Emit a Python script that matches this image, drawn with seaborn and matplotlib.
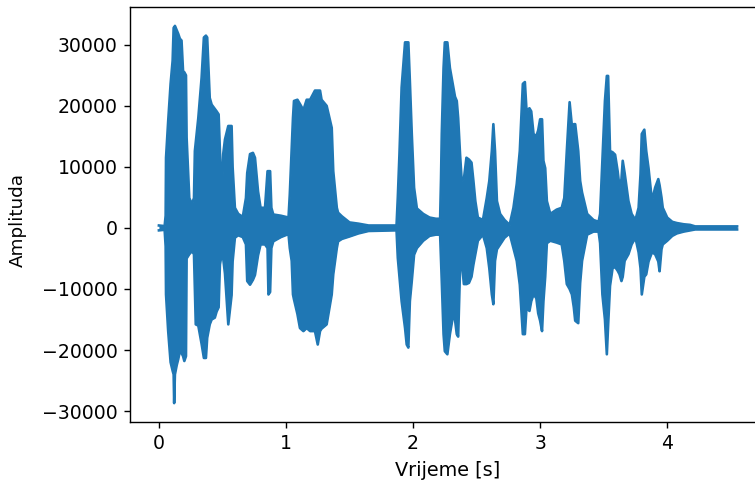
import seaborn as sns
import matplotlib
matplotlib.use("Agg")
import matplotlib.pyplot as plt
import pandas as pd

time_s = [
    0.00, 0.045, 0.053, 0.056, 0.073, 0.092, 0.108, 0.116, 0.12, 0.126,
    0.14, 0.152, 0.165, 0.178, 0.19, 0.20, 0.213, 0.218, 0.239, 0.26,
    0.276, 0.283, 0.29, 0.31, 0.336, 0.354, 0.37, 0.38, 0.40, 0.415,
    0.44, 0.454, 0.47, 0.48, 0.494, 0.506, 0.52, 0.546, 0.572, 0.58,
    0.598, 0.624, 0.66, 0.685, 0.695, 0.717, 0.74, 0.756, 0.78, 0.80,
    0.835, 0.855, 0.862, 0.875, 0.885, 0.90, 0.96, 1.02, 1.03, 1.045,
    1.055, 1.063, 1.09, 1.11, 1.137, 1.163, 1.19, 1.228, 1.25, 1.268,
    1.28, 1.32, 1.36, 1.372, 1.40, 1.41, 1.44, 1.50, 1.57, 1.65,
    1.87, 1.88, 1.893, 1.91, 1.937, 1.95, 1.963, 1.975, 1.99, 2.008,
    2.03, 2.08, 2.13, 2.18, 2.213, 2.22, 2.226, 2.24, 2.25, 2.27,
    2.29, 2.317, 2.33, 2.344, 2.355, 2.37, 2.383, 2.40, 2.42, 2.44,
    2.46, 2.475, 2.49, 2.51, 2.55, 2.58, 2.60, 2.62, 2.632, 2.645,
    2.66, 2.685, 2.72, 2.76, 2.79, 2.816, 2.84, 2.864, 2.88, 2.893,
    2.916, 2.93, 2.948, 2.97, 2.985, 3.0, 3.015, 3.026, 3.04, 3.053,
    3.08, 3.13, 3.17, 3.19, 3.21, 3.232, 3.25, 3.265, 3.276, 3.30,
    3.315, 3.33, 3.37, 3.42, 3.46, 3.472, 3.49, 3.51, 3.525, 3.535,
    3.55, 3.57, 3.59, 3.61, 3.625, 3.64, 3.65, 3.665, 3.695, 3.72,
    3.75, 3.775, 3.79, 3.80, 3.82, 3.835, 3.853, 3.88, 3.905, 3.93,
    3.94, 3.955, 3.965, 4.0, 4.04, 4.076, 4.13, 4.18, 4.22, 4.55,
]
upper = [
    400, 300, 2000, 11500, 17500, 23600, 27400, 32800, 32800, 33100,
    32400, 31800, 31000, 30700, 25700, 25500, 25000, 14800, 4900, 3900,
    4900, 12600, 14000, 18000, 24600, 31200, 31500, 31200, 21300, 20200,
    19500, 19100, 18600, 12600, 4400, 12100, 14500, 16700, 16700, 10000,
    3300, 2300, 1800, 4900, 9000, 12100, 12300, 11500, 6000, 3300,
    3300, 9300, 9300, 9300, 3300, 2200, 2000, 1700, 5500, 13100,
    18000, 20800, 21000, 20300, 19300, 21000, 21000, 22500, 22500, 22500,
    21000, 20000, 16400, 9300, 3300, 2500, 1900, 900, 700, 400,
    400, 5000, 12100, 23000, 30400, 30400, 30400, 24000, 15400, 6600,
    3200, 2300, 1700, 1500, 1500, 8000, 15400, 26200, 30400, 30400,
    26200, 23000, 21500, 20800, 18000, 12000, 7700, 8000, 11500, 11200,
    10700, 7700, 4400, 1700, 1300, 4900, 7700, 12600, 17000, 12600,
    4400, 2300, 1300, 500, 3300, 7200, 12600, 23600, 23900, 19200,
    19600, 19100, 15400, 15000, 16000, 17800, 17800, 11000, 9800, 4400,
    2300, 3000, 3300, 4900, 12600, 20600, 16700, 17000, 17000, 12600,
    7700, 5800, 2300, 1300, 1000, 2300, 11000, 20800, 24900, 24900,
    12600, 12400, 12000, 9300, 6600, 8000, 11000, 9000, 4400, 2300,
    1300, 3300, 8800, 15400, 16100, 12600, 9800, 4400, 6600, 8000,
    7000, 5000, 3300, 1700, 1000, 800, 600, 500, 250, 250,
]
lower = [
    -400, -300, -3000, -10900, -16900, -22000, -23400, -24000, -28700, -24000,
    -22500, -21500, -20200, -20500, -21000, -21800, -21000, -5000, -4300, -3800,
    -4300, -10000, -15800, -16000, -19000, -21300, -21300, -18000, -15800, -15000,
    -14700, -13700, -13000, -6000, -4300, -5000, -7500, -15800, -11000, -5500,
    -1600, -1200, -1500, -2700, -8700, -9300, -8500, -7700, -4500, -2700,
    -2700, -3300, -10900, -10500, -3300, -2200, -1500, -1000, -3300, -5400,
    -10900, -11700, -14100, -16400, -16900, -16400, -16900, -16900, -19100, -16900,
    -16500, -15800, -10900, -7600, -3300, -2200, -1800, -1400, -900, -500,
    -400, -4900, -8000, -12000, -16400, -19100, -19600, -12000, -8700, -4400,
    -3300, -2100, -1300, -1100, -1100, -5000, -8700, -17400, -20200, -20700,
    -17400, -14100, -15000, -17400, -17800, -6600, -5400, -9200, -9200, -9000,
    -8000, -6000, -4300, -2100, -1100, -3300, -6600, -10900, -12500, -5400,
    -3500, -2700, -1600, -900, -3300, -5400, -9300, -17400, -17400, -13000,
    -13600, -12000, -10900, -11500, -14000, -15200, -16900, -12000, -8000, -2500,
    -2100, -2400, -2700, -5400, -9200, -10000, -10900, -13000, -15200, -15600,
    -9000, -5400, -1100, -600, -600, -2500, -10900, -15000, -20700, -16000,
    -9500, -6600, -6400, -7000, -7600, -8700, -8000, -5400, -4300, -2700,
    -1600, -4000, -6600, -10900, -8000, -7600, -5500, -4000, -4300, -5500,
    -7100, -3500, -2700, -2100, -1300, -900, -600, -400, -250, -250,
]

df = pd.DataFrame({"Vrijeme": time_s, "upper": upper, "lower": lower})
df_long = df.melt(id_vars="Vrijeme", value_vars=["upper", "lower"],
                  var_name="rub", value_name="Amplituda")

color = "#1f77b4"

fig = plt.figure(figsize=(755 / 126, 483 / 126), dpi=126)
ax = fig.add_axes([130 / 755, 61 / 483, 636 / 755, 415 / 483])

# solid body of the waveform, then its edges drawn as lines
ax.fill_between(df["Vrijeme"], df["lower"], df["upper"], color=color, lw=0)
sns.lineplot(data=df_long, x="Vrijeme", y="Amplituda", units="rub",
             estimator=None, sort=False, color=color, lw=1.5, ax=ax)

ax.set_xticks([0, 1, 2, 3, 4])
ax.set_yticks([-30000, -20000, -10000, 0, 10000, 20000, 30000])
ax.tick_params(labelsize=10.8)

ax.set_xlabel("Vrijeme [s]", fontsize=11)
ax.set_ylabel("Amplituda", fontsize=10.5)
ax.xaxis.set_label_coords(0.5, -0.094)
ax.yaxis.set_label_coords(-0.162, 0.487)

fig.savefig("out.png", dpi=126)
